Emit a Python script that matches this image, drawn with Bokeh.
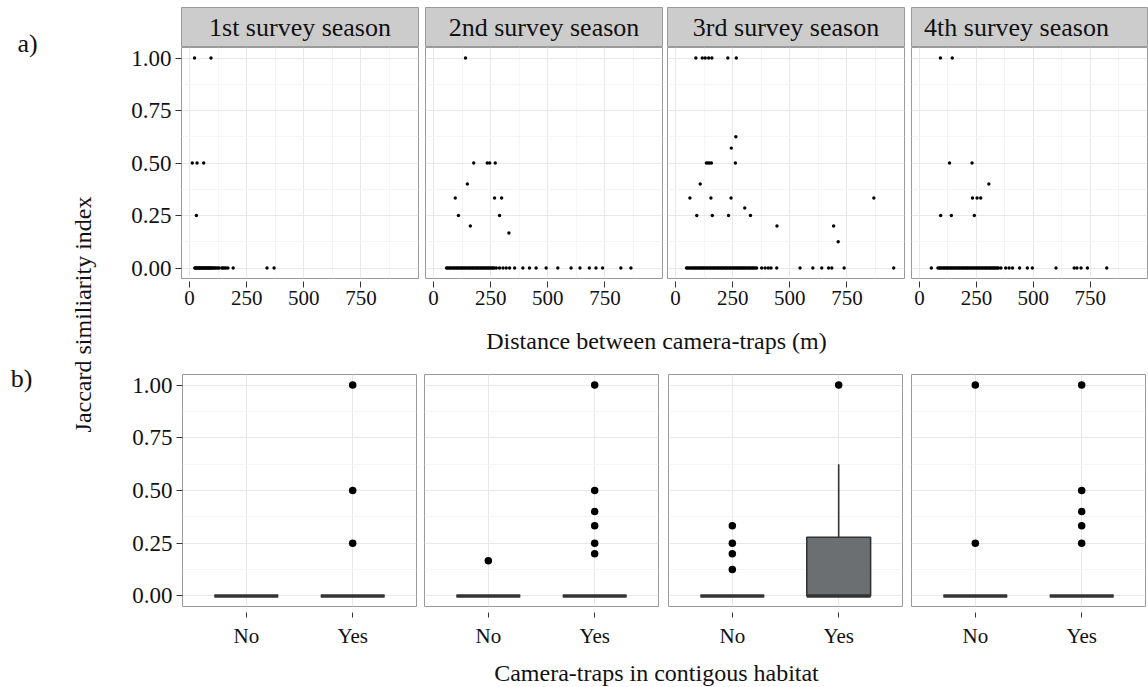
import math
from bokeh.plotting import figure
from bokeh.layouts import row, column
from bokeh.models import Label, Range1d, FixedTicker, NumeralTickFormatter, ColumnDataSource
from bokeh.embed import file_html
from bokeh.resources import INLINE

FONT = "Liberation Serif"

# ---------------- data ----------------
seasons = ["1st survey season", "2nd survey season", "3rd survey season", "4th survey season"]

# panel a) : distance (m) vs Jaccard similarity, per survey season
s1_pos_dist = [22, 94, 12, 33, 62, 30]
s1_pos_jac = [1.0, 1.0, 0.5, 0.5, 0.5, 0.25]
s1_zero_dist = [23, 26, 30, 33, 37, 41, 44, 48, 52, 55, 59, 63, 66, 70, 74, 78, 81, 85, 89, 93,
                97, 101, 106, 111, 116, 123, 129, 141, 146, 152, 159, 168, 191, 339, 370]

s2_pos_dist = [140, 176, 235, 246, 270, 148, 95, 267, 298, 109, 289, 161, 330]
s2_pos_jac = [1.0, 0.5, 0.5, 0.5, 0.5, 0.4, 0.333, 0.333, 0.333, 0.25, 0.25, 0.2, 0.167]
s2_zero_dist = [57, 62, 68, 73, 79, 85, 90, 96, 102, 107, 113, 119, 124, 130, 136, 141, 147, 153,
                158, 164, 170, 175, 181, 187, 192, 198, 204, 209, 215, 221, 226, 232, 238, 243,
                249, 255, 260, 266, 275, 289, 304, 318, 333, 355, 391, 420, 449, 493, 544, 602,
                641, 682, 711, 740, 820, 864]

s3_pos_dist = [89, 117, 130, 145, 159, 229, 266, 264, 244, 135, 142, 149, 157, 262, 108,
               63, 155, 243, 868, 303, 93, 161, 232, 328, 444, 692, 712]
s3_pos_jac = [1.0, 1.0, 1.0, 1.0, 1.0, 1.0, 1.0, 0.625, 0.571, 0.5, 0.5, 0.5, 0.5, 0.5, 0.4,
              0.333, 0.333, 0.333, 0.333, 0.286, 0.25, 0.25, 0.25, 0.25, 0.2, 0.2, 0.125]
s3_zero_dist = [48, 53, 59, 65, 70, 76, 82, 87, 93, 99, 104, 110, 116, 121, 127, 133, 138, 144,
                150, 155, 161, 167, 172, 178, 184, 189, 195, 201, 206, 212, 218, 223, 229, 235,
                240, 246, 252, 257, 263, 269, 274, 280, 286, 291, 297, 303, 308, 314, 320, 325,
                331, 337, 342, 348, 355, 377, 392, 406, 418, 443, 545, 601, 640, 670, 684, 738, 955]

s4_pos_dist = [92, 144, 132, 231, 305, 233, 253, 269, 93, 140, 241]
s4_pos_jac = [1.0, 1.0, 0.5, 0.5, 0.4, 0.333, 0.333, 0.333, 0.25, 0.25, 0.25]
s4_zero_dist = [52, 81, 87, 92, 98, 104, 109, 115, 121, 126, 132, 138, 143, 149, 155, 160, 166,
                172, 177, 183, 189, 194, 200, 206, 211, 217, 223, 228, 234, 240, 245, 251, 257,
                262, 268, 274, 279, 285, 291, 296, 302, 308, 313, 319, 325, 330, 336, 342, 347,
                358, 379, 394, 409, 440, 474, 496, 600, 680, 692, 710, 738, 823]

# panel b) : boxplots by contiguous habitat (No / Yes), per survey season
habitat = ["No", "Yes"]
box_lower = [[0.0, 0.0], [0.0, 0.0], [0.0, 0.0], [0.0, 0.0]]
box_q1 = [[0.0, 0.0], [0.0, 0.0], [0.0, 0.0], [0.0, 0.0]]
box_median = [[0.0, 0.0], [0.0, 0.0], [0.0, 0.0], [0.0, 0.0]]
box_q3 = [[0.0, 0.0], [0.0, 0.0], [0.0, 0.278], [0.0, 0.0]]
box_upper = [[0.0, 0.0], [0.0, 0.0], [0.0, 0.625], [0.0, 0.0]]
outliers_no = [[], [0.167], [0.333, 0.25, 0.2, 0.125], [1.0, 0.25]]
outliers_yes = [[1.0, 0.5, 0.25], [1.0, 0.5, 0.4, 0.333, 0.25, 0.2], [1.0],
                [1.0, 0.5, 0.4, 0.333, 0.25]]

x_ticks = [0, 250, 500, 750]
x_minor = [125, 375, 625, 875]
y_ticks = [0.0, 0.25, 0.5, 0.75, 1.0]
y_minor = [0.125, 0.375, 0.625, 0.875]

# ---------------- styling ----------------
BORDER = "#9a9a9a"
GRID = "#e8e8e8"
GRID_MINOR = "#f5f5f5"
TXT = "#111111"

top_dist = [s1_pos_dist + s1_zero_dist, s2_pos_dist + s2_zero_dist,
            s3_pos_dist + s3_zero_dist, s4_pos_dist + s4_zero_dist]
top_jac = [s1_pos_jac + [0.0] * len(s1_zero_dist), s2_pos_jac + [0.0] * len(s2_zero_dist),
           s3_pos_jac + [0.0] * len(s3_zero_dist), s4_pos_jac + [0.0] * len(s4_zero_dist)]
all_d = [d for ds in top_dist for d in ds]
dmin, dmax = min(all_d), max(all_d)
pad = 0.05 * (dmax - dmin)


def make_fig(fw, fh, left, right, top, bottom, xr, yr, show_x, show_y):
    p = figure(frame_width=fw, frame_height=fh, x_range=xr, y_range=yr,
               output_backend="svg", toolbar_location=None,
               x_axis_location="below" if show_x else None,
               y_axis_location="left" if show_y else None,
               min_border=0, min_border_left=left, min_border_right=right,
               min_border_top=top, min_border_bottom=bottom)
    p.outline_line_color = BORDER
    p.outline_line_width = 1
    p.background_fill_color = "white"
    p.border_fill_color = "white"
    return p


def style_y(p):
    ay = p.yaxis[0]
    ay.ticker = FixedTicker(ticks=y_ticks)
    ay.formatter = NumeralTickFormatter(format="0.00")
    ay.axis_line_color = None
    ay.major_tick_line_color = "#333333"
    ay.minor_tick_line_color = None
    ay.major_tick_in = 0
    ay.major_tick_out = 6
    ay.major_label_standoff = 4
    ay.major_label_text_font = FONT
    ay.major_label_text_font_size = "23px"
    ay.major_label_text_color = TXT


def style_x(p, tin, tout, standoff):
    ax = p.xaxis[0]
    ax.axis_line_color = None
    ax.major_tick_line_color = "#333333"
    ax.minor_tick_line_color = None
    ax.major_tick_in = tin
    ax.major_tick_out = tout
    ax.major_label_standoff = standoff
    ax.major_label_text_font = FONT
    ax.major_label_text_font_size = "21px"
    ax.major_label_text_color = TXT


def style_grid(p, xt, xm, with_minor_x=True):
    p.xgrid.ticker = FixedTicker(ticks=xt, minor_ticks=xm)
    p.ygrid.ticker = FixedTicker(ticks=y_ticks, minor_ticks=y_minor)
    p.xgrid.grid_line_color = GRID
    p.ygrid.grid_line_color = GRID
    p.xgrid.minor_grid_line_color = GRID_MINOR if with_minor_x else None
    p.ygrid.minor_grid_line_color = GRID_MINOR


# horizontal geometry: (left border, frame width, right border)
top_geom = [(81, 237, 3), (4, 237, 2), (3, 237, 3), (4, 236, 1)]
bot_geom = [(82, 234, 4), (4, 234, 5), (5, 234, 4), (5, 234, 3)]
strip_offsets = [0, 0, 0, -13]

strips, tops, bots = [], [], []
for i, season in enumerate(seasons):
    l, fw, r = top_geom[i]
    # strip header
    sp = make_fig(fw, 40, l, r, 7, 0, Range1d(0, 1), Range1d(0, 1), False, False)
    sp.background_fill_color = "#cccccc"
    sp.xgrid.visible = False
    sp.ygrid.visible = False
    sp.add_layout(Label(x=0.5, y=0.5, text=season, text_font=FONT, text_font_size="26px",
                        text_align="center", text_baseline="middle", text_color=TXT,
                        x_offset=strip_offsets[i]))
    strips.append(sp)

    # scatter panel
    p = make_fig(fw, 231, l, r, 0, 40, Range1d(dmin - pad, dmax + pad), Range1d(-0.05, 1.05),
                 True, i == 0)
    style_grid(p, x_ticks, x_minor)
    p.xaxis[0].ticker = FixedTicker(ticks=x_ticks)
    style_x(p, -3, 9, 3)
    if i == 0:
        style_y(p)
    p.scatter(x=top_dist[i], y=top_jac[i], size=3.4, color="black", line_width=0)
    tops.append(p)

    # boxplot panel
    bl, bfw, br = bot_geom[i]
    q = make_fig(bfw, 232, bl, br, 0, 42, Range1d(0.4, 2.6), Range1d(-0.05, 1.05), True, i == 0)
    style_grid(q, [1, 2], [], with_minor_x=False)
    q.xaxis[0].ticker = FixedTicker(ticks=[1, 2])
    q.xaxis[0].major_label_overrides = {1: habitat[0], 2: habitat[1]}
    style_x(q, -6, 11, 6)
    if i == 0:
        style_y(q)
    pos = [k + 1 for k in range(len(habitat))]
    src = ColumnDataSource(dict(x=pos, lo=box_lower[i], q1=box_q1[i], med=box_median[i],
                                q3=box_q3[i], hi=box_upper[i],
                                x0=[v - 0.3 for v in pos], x1=[v + 0.3 for v in pos]))
    q.segment(x0="x", x1="x", y0="q3", y1="hi", source=src, line_color="#333333", line_width=1.6)
    q.segment(x0="x", x1="x", y0="lo", y1="q1", source=src, line_color="#333333", line_width=1.6)
    q.vbar(x="x", width=0.6, bottom="q1", top="q3", source=src, fill_color="#6c6f71",
           line_color="#333333", line_width=1.6)
    q.segment(x0="x0", x1="x1", y0="med", y1="med", source=src, line_color="#333333",
              line_width=3.6, line_cap="butt")
    ox = [pos[0]] * len(outliers_no[i]) + [pos[1]] * len(outliers_yes[i])
    oy = outliers_no[i] + outliers_yes[i]
    q.scatter(x=ox, y=oy, size=7.5, color="black", line_width=0)
    bots.append(q)

# left side: panel letters and shared y-axis title
side = figure(width=100, height=687, x_range=Range1d(0, 100), y_range=Range1d(687, 0),
              output_backend="svg", toolbar_location=None, x_axis_location=None,
              y_axis_location=None, min_border=0)
side.outline_line_color = None
side.xgrid.visible = False
side.ygrid.visible = False
side.add_layout(Label(x=27, y=43, text="a)", text_font=FONT, text_font_size="26px",
                      text_align="center", text_baseline="middle", text_color=TXT))
side.add_layout(Label(x=21, y=378, text="b)", text_font=FONT, text_font_size="26px",
                      text_align="center", text_baseline="middle", text_color=TXT))
side.add_layout(Label(x=82, y=314, text="Jaccard similiarity index", text_font=FONT,
                      text_font_size="24px", text_align="center", text_baseline="middle",
                      angle=math.pi / 2, text_color=TXT))


def title_fig(h, text, yc):
    t = figure(width=1048, height=h, x_range=Range1d(100, 1148), y_range=Range1d(h, 0),
               output_backend="svg", toolbar_location=None, x_axis_location=None,
               y_axis_location=None, min_border=0)
    t.outline_line_color = None
    t.xgrid.visible = False
    t.ygrid.visible = False
    t.add_layout(Label(x=656, y=yc, text=text, text_font=FONT, text_font_size="24px",
                       text_align="center", text_baseline="middle", text_color=TXT))
    return t


t1 = title_fig(56, "Distance between camera-traps (m)", 22)
t2 = title_fig(39, "Camera-traps in contigous habitat", 22)

right = column(row(*strips), row(*tops), t1, row(*bots), t2)
layout = row(side, right)

open("out.html", "w").write(file_html(layout, INLINE))
